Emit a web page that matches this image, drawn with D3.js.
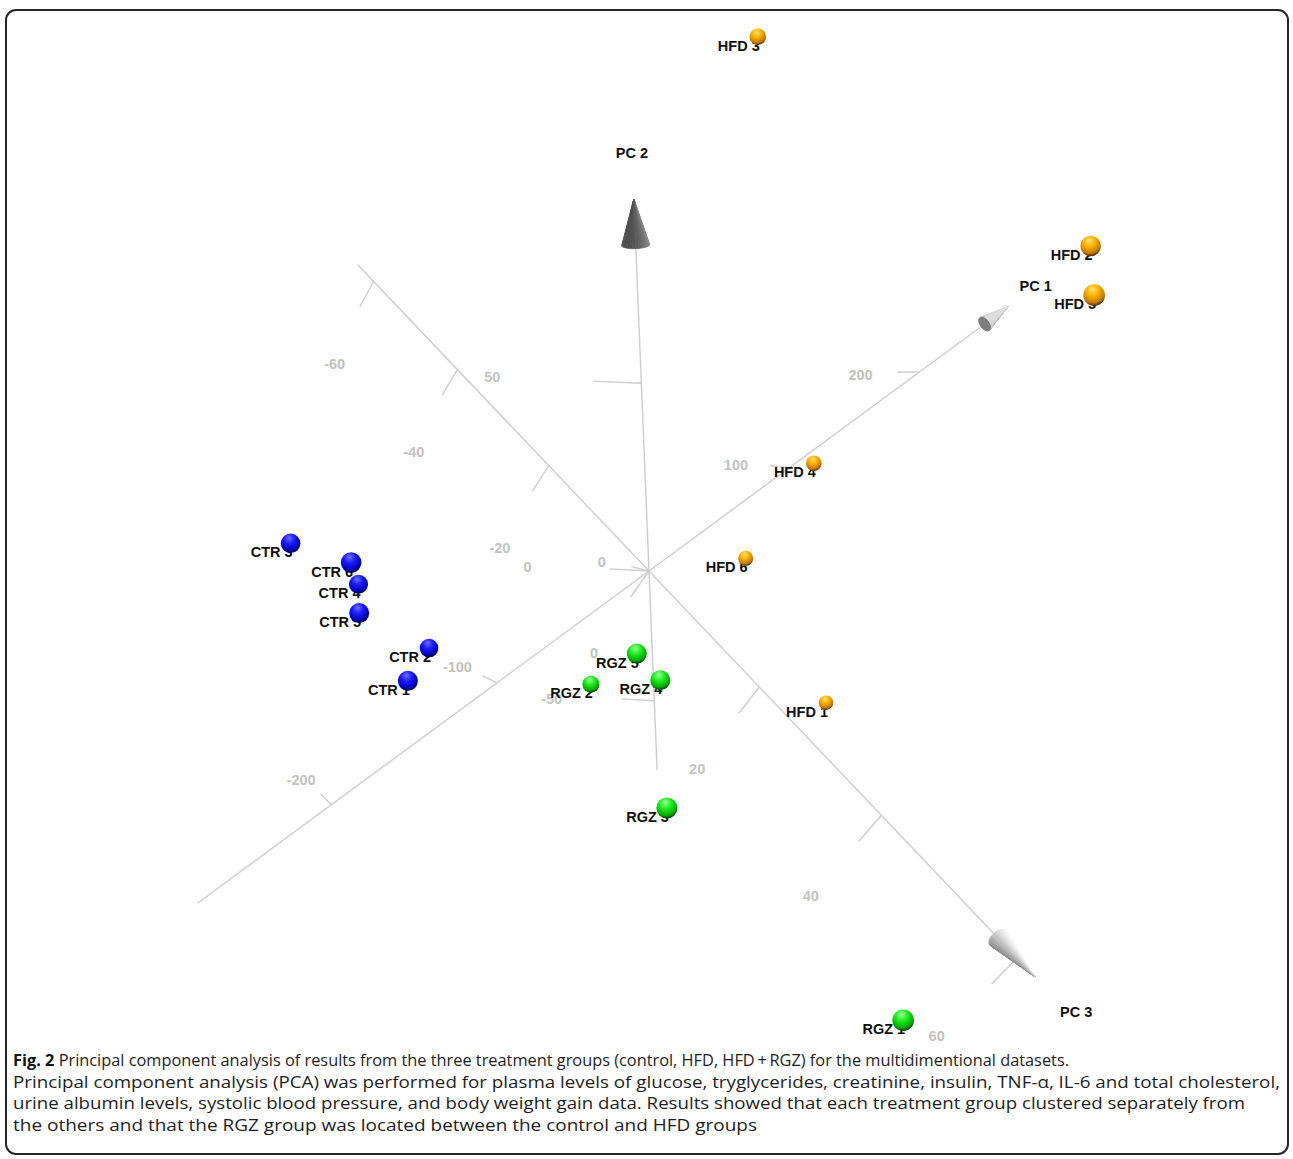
<!DOCTYPE html>
<html>
<head>
<meta charset="utf-8">
<title>PCA of treatment groups</title>
<script src="https://cdn.jsdelivr.net/npm/d3@7"></script>
<style>
  html, body { margin: 0; padding: 0; background: #ffffff; }
  svg { display: block; }
</style>
</head>
<body>
<svg id="chart" width="1293" height="1159"></svg>
<script>
// ---------------- data ----------------
const sampleNames = ["CTR 1", "CTR 2", "CTR 3", "CTR 4", "CTR 5", "CTR 6",
                     "HFD 1", "HFD 2", "HFD 3", "HFD 4", "HFD 5", "HFD 6",
                     "RGZ 1", "RGZ 2", "RGZ 3", "RGZ 4", "RGZ 5"];
const sampleGroups = ["CTR", "CTR", "CTR", "CTR", "CTR", "CTR",
                      "HFD", "HFD", "HFD", "HFD", "HFD", "HFD",
                      "RGZ", "RGZ", "RGZ", "RGZ", "RGZ"];
const pc1Scores = [-135.3, -109.7, -141.3, -122.6, -135.6, -127.9,
                   118.4, 235.3, 260.9, 170.0, 202.6, 115.9,
                   -50.5, -36.2, -77.2, -37.1, -38.9];
const pc2Scores = [2.8, -9.7, 10.4, 0.5, 8.4, 18.0,
                   -80.8, 38.6, 20.8, -34.6, 42.6, -53.7,
                   -9.6, -34.1, 1.4, 1.5, 3.7];
const pc3Scores = [-5.9, -12.5, -26.6, -21.2, -14.5, -16.3,
                   9.6, 13.0, -48.4, -9.9, 19.2, -10.2,
                   56.4, -3.1, 24.6, 12.4, 8.7];

const axisTitles = ["PC 1", "PC 2", "PC 3"];
const pc1Ticks = [-200, -100, 0, 100, 200];
const pc2Ticks = [-50, 0, 50];
const pc3Ticks = [-60, -40, -20, 0, 20, 40, 60];

const captionLines = [
  ["Fig. 2", " Principal component analysis of results from the three treatment groups (control, HFD, HFD\u2009+\u2009RGZ) for the multidimentional datasets."],
  ["", "Principal component analysis (PCA) was performed for plasma levels of glucose, tryglycerides, creatinine, insulin, TNF-\u03b1, IL-6 and total cholesterol,"],
  ["", "urine albumin levels, systolic blood pressure, and body weight gain data. Results showed that each treatment group clustered separately from"],
  ["", "the others and that the RGZ group was located between the control and HFD groups"]
];
const captionWidths = [1056, 1267, 1232, 744];

// ---------------- view setup ----------------
const svg = d3.select("#chart");
const W = 1293, H = 1159;

// 3D -> screen: each score axis is a linear scale into view units, then a
// perspective divide shrinks far points and grows near ones.
const origin = { x: 649, y: 571 };
const axisScale = [
  d3.scaleLinear().domain([0, 100]).range([0, 181.39]),
  d3.scaleLinear().domain([0, 100]).range([0, 307.25]),
  d3.scaleLinear().domain([0, 100]).range([0, 761.78])
];
const axisDir = [[0.8055, -0.5927], [-0.0407, -0.9992], [0.6892, 0.7246]];
const depthGain = [0.00022052, -0.00118796, -0.00031505];

function project(v) {
  const u = v.map((d, i) => axisScale[i](d));
  const s = 1 + d3.sum(u, (d, i) => d * depthGain[i]);
  const x = d3.sum(u, (d, i) => d * axisDir[i][0]);
  const y = d3.sum(u, (d, i) => d * axisDir[i][1]);
  return { x: origin.x + x / s, y: origin.y + y / s, s };
}
const onAxis = (axis, t) => [0, 1, 2].map(i => (i === axis ? t : 0));
const add = (a, b) => a.map((d, i) => d + b[i]);

const axisConfig = [
  { ticks: pc1Ticks, from: -275, base: 253, tip: 272.5, tickVec: [-0.4, -4.5, -3.4], labelVec: [-3, -12, -9],
    title: [296, 0, 0], cone: { a: 8, b: 4.5, lo: "#8f8f8f", hi: "#e2e2e2", disk: "#7d7d7d" } },
  { ticks: pc2Ticks, from: -85, base: 76.5, tip: 84, tickVec: [-15, 0, -3.3], labelVec: [-50, 2.5, -9],
    title: [0, 91, 0], cone: { a: 14, b: 3.5, lo: "#4e4e4e", hi: "#a2a2a2", disk: "#555" } },
  { ticks: pc3Ticks, from: -64, base: 57.3, tip: 62.5, tickVec: [-13, -4, 0], labelVec: [-39, -15, -0.4],
    title: [5, -2, 67.5], cone: { a: 11, b: 6, lo: "#8a8a8a", hi: "#f6f6f6", disk: "#999" } }
];

// ---------------- frame ----------------
svg.append("rect")
  .attr("x", 6).attr("y", 10).attr("width", W - 11).attr("height", H - 15)
  .attr("rx", 10).attr("ry", 10)
  .attr("fill", "none").attr("stroke", "#262626").attr("stroke-width", 2);

// ---------------- gradients for the spheres ----------------
const defs = svg.append("defs");
const groupColors = {
  CTR: ["#7070ff", "#1c1cff", "#0000b4", "#000018"],
  HFD: ["#ffe27a", "#ffb300", "#c27800", "#1e1200"],
  RGZ: ["#9cff9c", "#22ee22", "#00a800", "#001400"]
};
Object.entries(groupColors).forEach(([g, c]) => {
  const grad = defs.append("radialGradient").attr("id", "sphere-" + g)
    .attr("cx", "0.45").attr("cy", "0.32").attr("r", "0.72")
    .attr("fx", "0.42").attr("fy", "0.22");
  [[0, c[0]], [0.38, c[1]], [0.78, c[2]], [1, c[3]]].forEach(([o, col]) =>
    grad.append("stop").attr("offset", o).attr("stop-color", col));
});

// ---------------- axes ----------------
const axisColor = "#cdcdcd";
const gAxes = svg.append("g").attr("class", "axes");
const line = d3.line().x(d => d.x).y(d => d.y);

axisConfig.forEach((cfg, axis) => {
  const p0 = project(onAxis(axis, cfg.from));
  const p1 = project(onAxis(axis, cfg.base));
  gAxes.append("path").attr("d", line([p0, p1]))
    .attr("stroke", axisColor).attr("stroke-width", 1.4).attr("fill", "none");

  cfg.ticks.forEach(t => {
    const at = onAxis(axis, t);
    const a = project(at), b = project(add(at, cfg.tickVec));
    gAxes.append("path").attr("d", line([a, b]))
      .attr("stroke", axisColor).attr("stroke-width", 1.4).attr("fill", "none");
    const lp = project(add(at, cfg.labelVec));
    gAxes.append("text")
      .attr("x", lp.x).attr("y", lp.y)
      .attr("text-anchor", "middle").attr("dominant-baseline", "central")
      .attr("font-family", "Liberation Sans, Arial, sans-serif")
      .attr("font-weight", "bold").attr("font-size", 14.5)
      .attr("fill", "#c2c2c2")
      .text(t);
  });
});

// ---------------- axis arrowheads ----------------
const gCones = svg.append("g").attr("class", "cones");
const light = [0.62, -0.78];

axisConfig.forEach((cfg, axis) => {
  const B = project(onAxis(axis, cfg.base));
  const T = project(onAxis(axis, cfg.tip));
  const c = cfg.cone;
  const L = Math.hypot(T.x - B.x, T.y - B.y);
  const ux = (T.x - B.x) / L, uy = (T.y - B.y) / L;
  const nx = -uy, ny = ux;
  const pointsAway = T.s > B.s;
  const N = 28;
  const rim = d3.range(N).map(i => {
    const th = 2 * Math.PI * i / N;
    return { x: B.x + c.a * Math.cos(th) * nx + c.b * Math.sin(th) * ux,
             y: B.y + c.a * Math.cos(th) * ny + c.b * Math.sin(th) * uy };
  });
  const shade = d3.interpolateRgb(c.lo, c.hi);
  const facets = d3.range(N).map(i => {
    const th = 2 * Math.PI * (i + 0.5) / N;
    const sx = Math.cos(th) * nx + Math.sin(th) * ux;
    const sy = Math.cos(th) * ny + Math.sin(th) * uy;
    const lit = (1 + sx * light[0] + sy * light[1]) / 2;
    return { pts: [rim[i], rim[(i + 1) % N], T], lit, order: Math.sin(th) };
  });
  facets.sort((p, q) => pointsAway ? p.order - q.order : q.order - p.order);
  facets.forEach(f => {
    const col = shade(f.lit);
    gCones.append("path")
      .attr("d", line(f.pts) + "Z")
      .attr("fill", col).attr("stroke", col).attr("stroke-width", 0.6)
      .attr("stroke-linejoin", "round");
  });
  if (pointsAway) {
    gCones.append("path").attr("d", line(rim) + "Z")
      .attr("fill", c.disk).attr("stroke", c.disk).attr("stroke-width", 0.6);
  }
});

// axis titles
axisConfig.forEach((cfg, axis) => {
  const p = project(cfg.title);
  gAxes.append("text")
    .attr("x", p.x).attr("y", p.y)
    .attr("text-anchor", "middle").attr("dominant-baseline", "central")
    .attr("font-family", "Liberation Sans, Arial, sans-serif")
    .attr("font-weight", "bold").attr("font-size", 14.5)
    .attr("fill", "#111")
    .text(axisTitles[axis]);
});

// ---------------- samples ----------------
const samples = sampleNames.map((name, i) => {
  const p = project([pc1Scores[i], pc2Scores[i], pc3Scores[i]]);
  return { name, group: sampleGroups[i], x: p.x, y: p.y, s: p.s };
});
const radius = d3.scaleLinear().domain([0, 1]).range([0, 9.5]);

const gLabels = svg.append("g").attr("class", "sample-labels");
samples.forEach(d => {
  gLabels.append("text")
    .attr("x", d.x + 2).attr("y", d.y + 14)
    .attr("text-anchor", "end")
    .attr("font-family", "Liberation Sans, Arial, sans-serif")
    .attr("font-weight", "bold").attr("font-size", 14.5)
    .attr("fill", "#111")
    .text(d.name);
});

const gPoints = svg.append("g").attr("class", "samples");
gPoints.selectAll("circle")
  .data(samples.slice().sort((a, b) => b.s - a.s))
  .join("circle")
  .attr("cx", d => d.x).attr("cy", d => d.y)
  .attr("r", d => radius(1 / d.s))
  .attr("fill", d => "url(#sphere-" + d.group + ")");

// ---------------- caption ----------------
const gCap = svg.append("g").attr("class", "caption");
captionLines.forEach((ln, i) => {
  const t = gCap.append("text")
    .attr("x", 13).attr("y", 1066 + i * 21.5)
    .attr("font-family", "Open Sans, Noto Sans, sans-serif")
    .attr("font-size", 16.5)
    .attr("fill", "#1e1e1e")
    .attr("textLength", captionWidths[i])
    .attr("lengthAdjust", "spacingAndGlyphs");
  if (ln[0]) t.append("tspan").attr("font-weight", "bold").attr("fill", "#111").text(ln[0]);
  t.append("tspan").text(ln[1]);
});
</script>
</body>
</html>
